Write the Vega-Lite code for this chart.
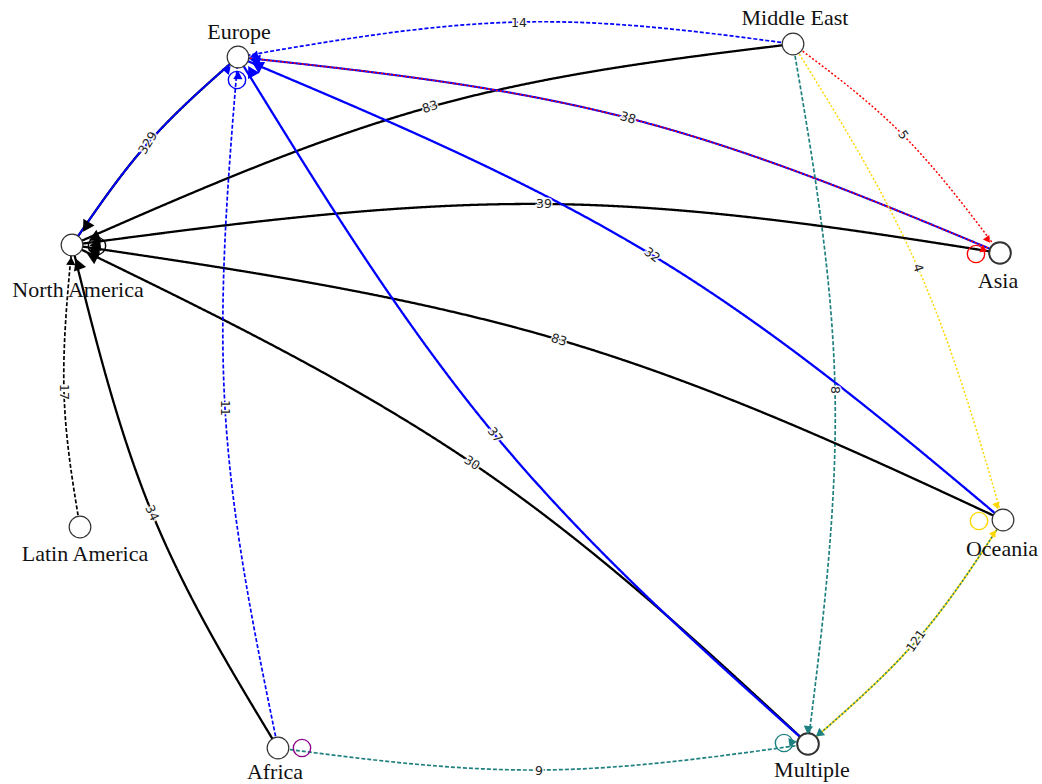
{
  "$schema": "https://vega.github.io/schema/vega-lite/v6.json",
  "width": 1042,
  "height": 784,
  "autosize": {"type": "fit", "contains": "padding"},
  "padding": 0,
  "background": "white",
  "config": {"view": {"stroke": null}},
  "datasets": {
    "edges": [
      {"edge": "a-EU-NA", "ord": 1, "x": 238, "y": 57, "target": "North America", "type": "strong"},
      {"edge": "a-EU-NA", "ord": 2, "x": 148, "y": 143, "target": "North America", "type": "strong"},
      {"edge": "a-EU-NA", "ord": 3, "x": 72, "y": 245, "target": "North America", "type": "strong"},
      {"edge": "b-NA-EU", "ord": 1, "x": 72, "y": 245, "target": "Europe", "type": "thin"},
      {"edge": "b-NA-EU", "ord": 2, "x": 148, "y": 143, "target": "Europe", "type": "thin"},
      {"edge": "b-NA-EU", "ord": 3, "x": 238, "y": 57, "target": "Europe", "type": "thin"},
      {"edge": "c-ME-EU", "ord": 1, "x": 793, "y": 44, "target": "Europe", "type": "dashed"},
      {"edge": "c-ME-EU", "ord": 2, "x": 520, "y": 22, "target": "Europe", "type": "dashed"},
      {"edge": "c-ME-EU", "ord": 3, "x": 238, "y": 57, "target": "Europe", "type": "dashed"},
      {"edge": "d-ME-NA", "ord": 1, "x": 793, "y": 44, "target": "North America", "type": "strong"},
      {"edge": "d-ME-NA", "ord": 2, "x": 430, "y": 107, "target": "North America", "type": "strong"},
      {"edge": "d-ME-NA", "ord": 3, "x": 72, "y": 245, "target": "North America", "type": "strong"},
      {"edge": "e-AS-EU", "ord": 1, "x": 1000, "y": 253, "target": "Europe", "type": "medium"},
      {"edge": "e-AS-EU", "ord": 2, "x": 628, "y": 118, "target": "Europe", "type": "medium"},
      {"edge": "e-AS-EU", "ord": 3, "x": 238, "y": 57, "target": "Europe", "type": "medium"},
      {"edge": "f-EU-AS", "ord": 1, "x": 238, "y": 57, "target": "Asia", "type": "dotted"},
      {"edge": "f-EU-AS", "ord": 2, "x": 628, "y": 118, "target": "Asia", "type": "dotted"},
      {"edge": "f-EU-AS", "ord": 3, "x": 1000, "y": 253, "target": "Asia", "type": "dotted"},
      {"edge": "g-ME-AS", "ord": 1, "x": 793, "y": 44, "target": "Asia", "type": "dotted"},
      {"edge": "g-ME-AS", "ord": 2, "x": 903, "y": 135, "target": "Asia", "type": "dotted"},
      {"edge": "g-ME-AS", "ord": 3, "x": 1000, "y": 253, "target": "Asia", "type": "dotted"},
      {"edge": "h-ME-OC", "ord": 1, "x": 793, "y": 44, "target": "Oceania", "type": "dotted"},
      {"edge": "h-ME-OC", "ord": 2, "x": 918, "y": 268, "target": "Oceania", "type": "dotted"},
      {"edge": "h-ME-OC", "ord": 3, "x": 1003, "y": 520, "target": "Oceania", "type": "dotted"},
      {"edge": "i-ME-MU", "ord": 1, "x": 793, "y": 44, "target": "Multiple", "type": "dashed"},
      {"edge": "i-ME-MU", "ord": 2, "x": 835, "y": 390, "target": "Multiple", "type": "dashed"},
      {"edge": "i-ME-MU", "ord": 3, "x": 808, "y": 744, "target": "Multiple", "type": "dashed"},
      {"edge": "j-AS-NA", "ord": 1, "x": 1000, "y": 253, "target": "North America", "type": "strong"},
      {"edge": "j-AS-NA", "ord": 2, "x": 545, "y": 204, "target": "North America", "type": "strong"},
      {"edge": "j-AS-NA", "ord": 3, "x": 72, "y": 245, "target": "North America", "type": "strong"},
      {"edge": "k-OC-EU", "ord": 1, "x": 1003, "y": 520, "target": "Europe", "type": "strong"},
      {"edge": "k-OC-EU", "ord": 2, "x": 652, "y": 255, "target": "Europe", "type": "strong"},
      {"edge": "k-OC-EU", "ord": 3, "x": 238, "y": 57, "target": "Europe", "type": "strong"},
      {"edge": "l-OC-NA", "ord": 1, "x": 1003, "y": 520, "target": "North America", "type": "strong"},
      {"edge": "l-OC-NA", "ord": 2, "x": 560, "y": 340, "target": "North America", "type": "strong"},
      {"edge": "l-OC-NA", "ord": 3, "x": 72, "y": 245, "target": "North America", "type": "strong"},
      {"edge": "m-MU-NA", "ord": 1, "x": 808, "y": 744, "target": "North America", "type": "strong"},
      {"edge": "m-MU-NA", "ord": 2, "x": 472, "y": 463, "target": "North America", "type": "strong"},
      {"edge": "m-MU-NA", "ord": 3, "x": 72, "y": 245, "target": "North America", "type": "strong"},
      {"edge": "n-MU-EU", "ord": 1, "x": 808, "y": 744, "target": "Europe", "type": "strong"},
      {"edge": "n-MU-EU", "ord": 2, "x": 495, "y": 435, "target": "Europe", "type": "strong"},
      {"edge": "n-MU-EU", "ord": 3, "x": 238, "y": 57, "target": "Europe", "type": "strong"},
      {"edge": "o-AF-EU", "ord": 1, "x": 278, "y": 748, "target": "Europe", "type": "dashed"},
      {"edge": "o-AF-EU", "ord": 2, "x": 225, "y": 408, "target": "Europe", "type": "dashed"},
      {"edge": "o-AF-EU", "ord": 3, "x": 238, "y": 57, "target": "Europe", "type": "dashed"},
      {"edge": "p-AF-NA", "ord": 1, "x": 278, "y": 748, "target": "North America", "type": "strong"},
      {"edge": "p-AF-NA", "ord": 2, "x": 152, "y": 513, "target": "North America", "type": "strong"},
      {"edge": "p-AF-NA", "ord": 3, "x": 72, "y": 245, "target": "North America", "type": "strong"},
      {"edge": "q-LA-NA", "ord": 1, "x": 80, "y": 527, "target": "North America", "type": "dashed"},
      {"edge": "q-LA-NA", "ord": 2, "x": 64, "y": 392, "target": "North America", "type": "dashed"},
      {"edge": "q-LA-NA", "ord": 3, "x": 72, "y": 245, "target": "North America", "type": "dashed"},
      {"edge": "r-AF-MU", "ord": 1, "x": 278, "y": 748, "target": "Multiple", "type": "dashed"},
      {"edge": "r-AF-MU", "ord": 2, "x": 540, "y": 770, "target": "Multiple", "type": "dashed"},
      {"edge": "r-AF-MU", "ord": 3, "x": 808, "y": 744, "target": "Multiple", "type": "dashed"},
      {"edge": "s-MU-OC", "ord": 1, "x": 808, "y": 744, "target": "Oceania", "type": "thin"},
      {"edge": "s-MU-OC", "ord": 2, "x": 917, "y": 640, "target": "Oceania", "type": "thin"},
      {"edge": "s-MU-OC", "ord": 3, "x": 1003, "y": 520, "target": "Oceania", "type": "thin"},
      {"edge": "t-OC-MU", "ord": 1, "x": 1003, "y": 520, "target": "Multiple", "type": "dotted"},
      {"edge": "t-OC-MU", "ord": 2, "x": 917, "y": 640, "target": "Multiple", "type": "dotted"},
      {"edge": "t-OC-MU", "ord": 3, "x": 808, "y": 744, "target": "Multiple", "type": "dotted"}
    ],
    "loops": [
      {"node": "North America", "x": 97, "y": 246, "target": "North America"},
      {"node": "Europe", "x": 237, "y": 80, "target": "Europe"},
      {"node": "Asia", "x": 976, "y": 254, "target": "Asia"},
      {"node": "Oceania", "x": 979, "y": 521, "target": "Oceania"},
      {"node": "Multiple", "x": 784, "y": 743, "target": "Multiple"},
      {"node": "Africa", "x": 302, "y": 748, "target": "Africa"}
    ],
    "arrows": [
      {"x": 86, "y": 227, "rot": 211, "target": "North America", "type": "strong"},
      {"x": 94, "y": 238, "rot": 245, "target": "North America", "type": "strong"},
      {"x": 95, "y": 245, "rot": 265, "target": "North America", "type": "strong"},
      {"x": 94, "y": 251, "rot": 280, "target": "North America", "type": "strong"},
      {"x": 92, "y": 256, "rot": 296, "target": "North America", "type": "strong"},
      {"x": 78, "y": 264, "rot": 339, "target": "North America", "type": "strong"},
      {"x": 71, "y": 261, "rot": 3, "target": "North America", "type": "dashed"},
      {"x": 254, "y": 56, "rot": 258, "target": "Europe", "type": "dashed"},
      {"x": 257, "y": 65, "rot": 299, "target": "Europe", "type": "strong"},
      {"x": 251, "y": 71, "rot": 331, "target": "Europe", "type": "strong"},
      {"x": 255, "y": 60, "rot": 276, "target": "Europe", "type": "medium"},
      {"x": 228, "y": 69, "rot": 41, "target": "Europe", "type": "dashed"},
      {"x": 238, "y": 75, "rot": 2, "target": "Europe", "type": "dashed"},
      {"x": 988, "y": 240, "rot": 145, "target": "Asia", "type": "dotted"},
      {"x": 984, "y": 250, "rot": 114, "target": "Asia", "type": "dotted"},
      {"x": 997, "y": 506, "rot": 162, "target": "Oceania", "type": "dotted"},
      {"x": 994, "y": 533, "rot": 35, "target": "Oceania", "type": "dotted"},
      {"x": 808, "y": 730, "rot": 186, "target": "Multiple", "type": "dashed"},
      {"x": 819, "y": 734, "rot": 232, "target": "Multiple", "type": "dashed"},
      {"x": 793, "y": 742, "rot": 82, "target": "Multiple", "type": "dashed"}
    ],
    "nodes": [
      {"name": "Europe", "x": 238, "y": 57, "lx": 239, "ly": 32},
      {"name": "Middle East", "x": 793, "y": 44, "lx": 795, "ly": 18},
      {"name": "North America", "x": 72, "y": 245, "lx": 78, "ly": 290},
      {"name": "Asia", "x": 1000, "y": 253, "lx": 998, "ly": 281},
      {"name": "Latin America", "x": 80, "y": 527, "lx": 85, "ly": 554},
      {"name": "Oceania", "x": 1003, "y": 520, "lx": 1002, "ly": 549},
      {"name": "Africa", "x": 278, "y": 748, "lx": 275, "ly": 772},
      {"name": "Multiple", "x": 808, "y": 744, "lx": 812, "ly": 770}
    ],
    "elabels": [
      {"label": "14", "x": 519, "y": 23, "angle": 0},
      {"label": "83", "x": 430, "y": 107, "angle": -18},
      {"label": "38", "x": 628, "y": 118, "angle": 17},
      {"label": "5", "x": 903, "y": 135, "angle": 55},
      {"label": "4", "x": 918, "y": 268, "angle": 72},
      {"label": "8", "x": 835, "y": 390, "angle": 90},
      {"label": "39", "x": 544, "y": 204, "angle": 0},
      {"label": "32", "x": 652, "y": 255, "angle": 36},
      {"label": "83", "x": 559, "y": 340, "angle": 17},
      {"label": "37", "x": 495, "y": 435, "angle": 53},
      {"label": "30", "x": 472, "y": 463, "angle": 33},
      {"label": "11", "x": 225, "y": 408, "angle": 90},
      {"label": "34", "x": 152, "y": 513, "angle": 65},
      {"label": "17", "x": 64, "y": 392, "angle": 90},
      {"label": "9", "x": 539, "y": 771, "angle": 0},
      {"label": "121", "x": 916, "y": 641, "angle": -55},
      {"label": "329", "x": 148, "y": 143, "angle": -58}
    ]
  },
  "layer": [
    {
      "data": {"name": "edges"},
      "mark": {"type": "line", "interpolate": "natural"},
      "encoding": {
        "x": {"field": "x", "type": "quantitative", "scale": {"domain": [0, 1042], "nice": false, "zero": false}, "axis": null},
        "y": {"field": "y", "type": "quantitative", "scale": {"domain": [0, 784], "nice": false, "zero": false, "reverse": true}, "axis": null},
        "detail": {"field": "edge"},
        "order": {"field": "ord", "type": "quantitative"},
        "color": {"field": "target", "type": "nominal", "legend": null,
          "scale": {"domain": ["North America", "Europe", "Asia", "Oceania", "Multiple", "Africa"],
                    "range": ["#000000", "#0000ff", "#ff0000", "#ffd700", "#1f8080", "#8b008b"]}},
        "strokeDash": {"field": "type", "type": "nominal", "legend": null,
          "scale": {"domain": ["strong", "medium", "thin", "dashed", "dotted"], "range": [[1, 0], [1, 0], [1, 0], [4, 2], [2, 2]]}},
        "strokeWidth": {"field": "type", "type": "nominal", "legend": null,
          "scale": {"domain": ["strong", "medium", "thin", "dashed", "dotted"], "range": [2.3, 1.5, 1.1, 0.9, 1]}}
      }
    },
    {
      "data": {"name": "loops"},
      "mark": {"type": "point", "shape": "circle", "filled": false, "size": 300, "strokeWidth": 1.4, "opacity": 1},
      "encoding": {
        "x": {"field": "x", "type": "quantitative"},
        "y": {"field": "y", "type": "quantitative"},
        "color": {"field": "target", "type": "nominal", "legend": null}
      }
    },
    {
      "data": {"name": "nodes"},
      "mark": {"type": "point", "shape": "circle", "filled": true, "fill": "white", "stroke": "#333333", "strokeWidth": 1.2, "size": 470, "opacity": 1},
      "encoding": {
        "x": {"field": "x", "type": "quantitative"},
        "y": {"field": "y", "type": "quantitative"},
        "strokeWidth": {"condition": {"test": "datum.name === 'Asia' || datum.name === 'Multiple'", "value": 2}, "value": 1.2}
      }
    },
    {
      "data": {"name": "arrows"},
      "mark": {"type": "point", "shape": "triangle-up", "filled": true, "opacity": 1},
      "encoding": {
        "x": {"field": "x", "type": "quantitative"},
        "y": {"field": "y", "type": "quantitative"},
        "angle": {"field": "rot", "type": "quantitative", "scale": null},
        "color": {"field": "target", "type": "nominal", "legend": null},
        "size": {"field": "type", "type": "nominal", "legend": null,
          "scale": {"domain": ["strong", "medium", "thin", "dashed", "dotted"], "range": [170, 60, 50, 40, 40]}}
      }
    },
    {
      "data": {"name": "nodes"},
      "mark": {"type": "text", "font": "Liberation Serif", "fontSize": 22, "color": "#111111", "baseline": "middle", "align": "center"},
      "encoding": {
        "x": {"field": "lx", "type": "quantitative"},
        "y": {"field": "ly", "type": "quantitative"},
        "text": {"field": "name"}
      }
    },
    {
      "data": {"name": "elabels"},
      "mark": {"type": "text", "font": "DejaVu Sans", "fontSize": 12.5, "stroke": "white", "strokeWidth": 3, "strokeOpacity": 0.9, "fill": "white", "baseline": "middle", "align": "center"},
      "encoding": {
        "x": {"field": "x", "type": "quantitative"},
        "y": {"field": "y", "type": "quantitative"},
        "angle": {"field": "angle", "type": "quantitative", "scale": null},
        "text": {"field": "label"}
      }
    },
    {
      "data": {"name": "elabels"},
      "mark": {"type": "text", "font": "DejaVu Sans", "fontSize": 12.5, "fill": "#222222", "baseline": "middle", "align": "center"},
      "encoding": {
        "x": {"field": "x", "type": "quantitative"},
        "y": {"field": "y", "type": "quantitative"},
        "angle": {"field": "angle", "type": "quantitative", "scale": null},
        "text": {"field": "label"}
      }
    }
  ]
}
